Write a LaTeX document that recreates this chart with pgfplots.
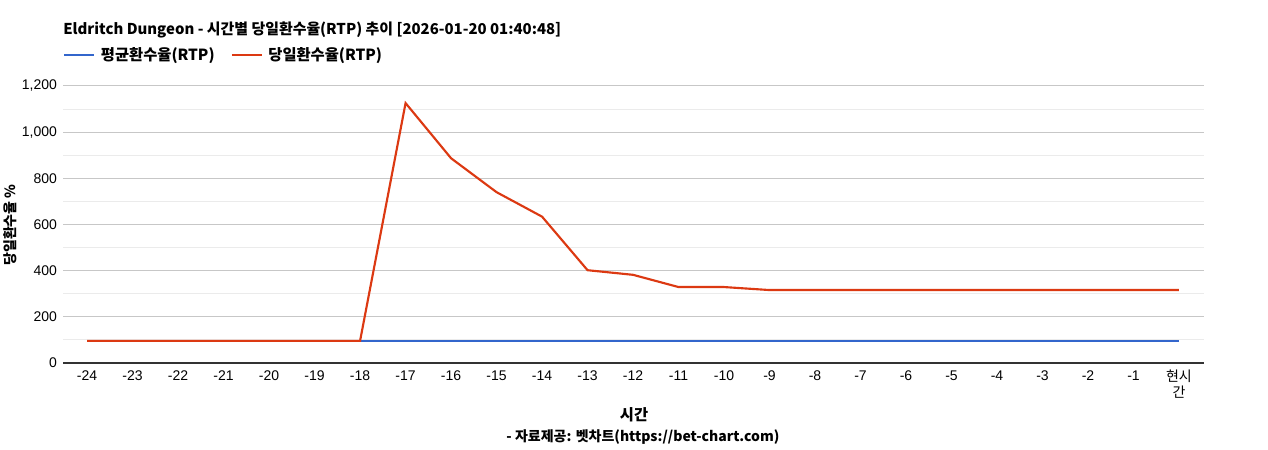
\documentclass[border=0pt]{standalone}
\usepackage{fontspec}
\setmainfont{Liberation Sans}
\newfontfamily\kr{Noto Sans CJK KR}
\usepackage{pgfplots}
\pgfplotsset{compat=1.18}

\definecolor{avgblue}{HTML}{3366CC}
\definecolor{dayred}{HTML}{DC3912}

\begin{document}
\begin{tikzpicture}
\path (0,0) rectangle (951pt,337.5pt);
\begin{axis}[
    at={(47.25pt,65.25pt)}, anchor=south west,
    scale only axis,
    width=855.75pt, height=207.75pt,
    xmin=-24.53, xmax=0.55,
    ymin=0, ymax=1200,
    axis line style={draw=none},
    xtick={-24,...,0},
    xticklabels={-24,-23,-22,-21,-20,-19,-18,-17,-16,-15,-14,-13,-12,-11,-10,-9,-8,-7,-6,-5,-4,-3,-2,-1,{\kr 현시\\\kr 간}},
    xticklabel style={font=\fontsize{10.5pt}{12pt}\selectfont, align=center, yshift=-2pt},
    ytick={0,200,...,1200},
    minor ytick={100,300,...,1100},
    yticklabel style={font=\fontsize{10.5pt}{12pt}\selectfont, xshift=-1pt},
    major tick length=0pt, minor tick length=0pt,
    ymajorgrids, yminorgrids,
    major grid style={draw=black!22, line width=0.75pt},
    minor grid style={draw=black!8, line width=0.75pt},
    extra y ticks={0},
    extra y tick labels={},
    extra y tick style={major grid style={draw=black!80, line width=0.9pt}},
    /pgf/number format/.cd, 1000 sep={,}, assume math mode=true,
    /pgfplots/.cd,
    legend columns=2,
    legend style={draw=none, fill=none, at={(0,1.112)}, anchor=west,
        inner xsep=0pt, inner ysep=0pt,
        font=\kr\bfseries\fontsize{11.5pt}{13pt}\selectfont,
        /tikz/every even column/.append style={column sep=8pt},
        nodes={inner xsep=4pt}},
    legend image code/.code={\draw[#1, line width=1.8pt] (0pt,0pt) -- (22.5pt,0pt);},
]
\addplot[avgblue, line width=1.6pt] coordinates {
 (-24,96) (-23,96) (-22,96) (-21,96) (-20,96) (-19,96) (-18,96) (-17,96)
 (-16,96) (-15,96) (-14,96) (-13,96) (-12,96) (-11,96) (-10,96) (-9,96)
 (-8,96) (-7,96) (-6,96) (-5,96) (-4,96) (-3,96) (-2,96) (-1,96) (0,96)
};
\addlegendentry{평균환수율(RTP)}
\addplot[dayred, line width=1.6pt] coordinates {
 (-24,96) (-23,96) (-22,96) (-21,96) (-20,96) (-19,96) (-18,96) (-17,1126)
 (-16,887) (-15,740) (-14,634) (-13,402) (-12,382) (-11,329) (-10,329) (-9,316)
 (-8,316) (-7,316) (-6,316) (-5,316) (-4,316) (-3,316) (-2,316) (-1,316) (0,316)
};
\addlegendentry{당일환수율(RTP)}
\end{axis}
\begin{scope}[x=0.75pt, y=-0.75pt, shift={(0pt,337.5pt)}]
\node[anchor=west, font=\kr\bfseries\fontsize{11.2pt}{13pt}\selectfont, inner sep=0pt] at (63,30)
  {Eldritch Dungeon - 시간별 당일환수율(RTP) 추이 [2026-01-20 01:40:48]};
\node[rotate=90, font=\kr\bfseries\fontsize{10.5pt}{12pt}\selectfont, inner sep=0pt] at (10,225) {당일환수율 \%};
\node[font=\kr\bfseries\fontsize{11.5pt}{13pt}\selectfont, inner sep=0pt] at (634,415) {시간};
\node[font=\kr\bfseries\fontsize{10.5pt}{12pt}\selectfont, inner sep=0pt] at (643,437) {- 자료제공: 벳차트(https://bet-chart.com)};
\end{scope}
\end{tikzpicture}
\end{document}
